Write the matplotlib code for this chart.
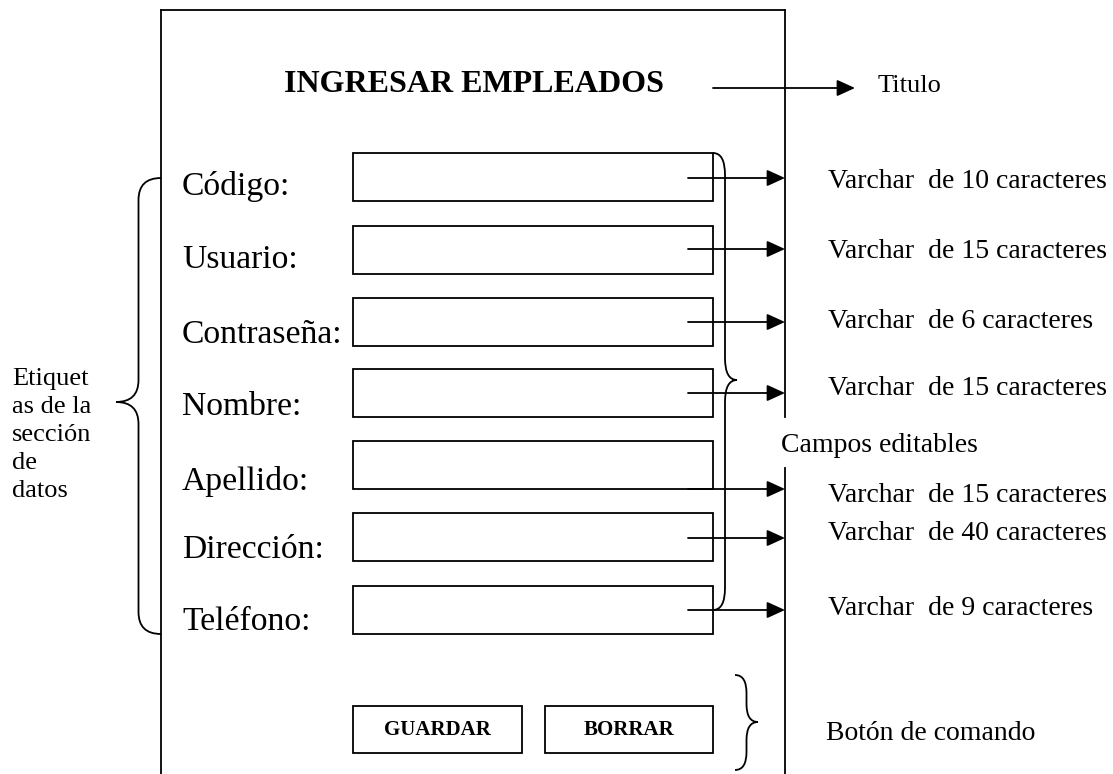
import matplotlib.pyplot as plt
from matplotlib.patches import Rectangle, PathPatch
from matplotlib.path import Path

# -----------------------------
# Content of the form sketch
# -----------------------------
title = "INGRESAR EMPLEADOS"
field_labels = ["Código:", "Usuario:", "Contraseña:", "Nombre:", "Apellido:", "Dirección:", "Teléfono:"]
field_types = ["Varchar  de 10 caracteres", "Varchar  de 15 caracteres", "Varchar  de 6 caracteres",
               "Varchar  de 15 caracteres", "Varchar  de 15 caracteres", "Varchar  de 40 caracteres",
               "Varchar  de 9 caracteres"]
buttons = ["GUARDAR", "BORRAR"]
side_notes = ["Etiquet", "as de la", "sección", "de", "datos"]

# layout in pixel coordinates (y grows downward)
box_tops = [153, 226, 298, 369, 441, 513, 586]
label_base = [195, 268, 343, 415, 490, 558, 630]
arrow_y = [178, 249, 322, 393, 489, 538, 610]
type_base = [188, 258, 328, 395, 502, 540, 615]

plt.rcParams['font.family'] = ['Liberation Serif', 'DejaVu Serif']

fig = plt.figure(figsize=(11.13, 7.74), dpi=100)
ax = fig.add_axes([0, 0, 1, 1])
ax.set_xlim(0, 1113)
ax.set_ylim(774, 0)
ax.axis('off')

lw = 1.3

# outer frame
ax.plot([161, 161], [10, 774], color='black', lw=lw)
ax.plot([161, 785], [10, 10], color='black', lw=lw)
ax.plot([785, 785], [10, 417], color='black', lw=lw)
ax.plot([785, 785], [468, 774], color='black', lw=lw)

ax.text(474, 92, title, fontsize=23, fontweight='bold', ha='center', va='baseline')


def arrow(x0, x1, y):
    ax.annotate("", xy=(x1, y), xytext=(x0, y),
                arrowprops=dict(arrowstyle='-|>,head_length=1.1,head_width=0.5',
                                mutation_scale=10, color='black', lw=lw,
                                shrinkA=0, shrinkB=0))


def brace(x_end, x_tip, y_top, y_tip, y_bot, r=22):
    xm = (x_end + x_tip) / 2
    verts = [(x_end, y_top), (xm, y_top), (xm, y_top + r),
             (xm, y_tip - r), (xm, y_tip), (x_tip, y_tip),
             (xm, y_tip), (xm, y_tip + r),
             (xm, y_bot - r), (xm, y_bot), (x_end, y_bot)]
    codes = [Path.MOVETO, Path.CURVE3, Path.CURVE3,
             Path.LINETO, Path.CURVE3, Path.CURVE3,
             Path.CURVE3, Path.CURVE3,
             Path.LINETO, Path.CURVE3, Path.CURVE3]
    ax.add_patch(PathPatch(Path(verts, codes), fill=False, lw=lw, edgecolor='black'))


arrow(713, 855, 88)
ax.text(878, 92, "Titulo", fontsize=19, va='baseline')

# fields
for i, lab in enumerate(field_labels):
    ax.add_patch(Rectangle((353, box_tops[i]), 360, 48, fill=False, lw=lw, edgecolor='black'))
    ax.text(182, label_base[i], lab, fontsize=24.2, va='baseline')
    arrow(688, 785, arrow_y[i])
    ax.text(828, type_base[i], field_types[i], fontsize=20, va='baseline')

ax.text(781, 452, "Campos editables", fontsize=20, va='baseline')

# braces
brace(161, 116, 178, 402, 634)
brace(713, 737, 153, 380, 610)
brace(735, 758, 675, 722, 770, r=18)

# buttons
bx = [353, 545]
bw = [169, 168]
for x, w, b in zip(bx, bw, buttons):
    ax.add_patch(Rectangle((x, 706), w, 47, fill=False, lw=lw, edgecolor='black'))
    ax.text(x + w / 2, 735, b, fontsize=15, fontweight='bold', ha='center', va='baseline')

ax.text(826, 740, "Botón de comando", fontsize=20, va='baseline')

for k, s in enumerate(side_notes):
    ax.text(12, 385 + 28 * k, s, fontsize=19, va='baseline')

fig.savefig("out.png", dpi=100)
